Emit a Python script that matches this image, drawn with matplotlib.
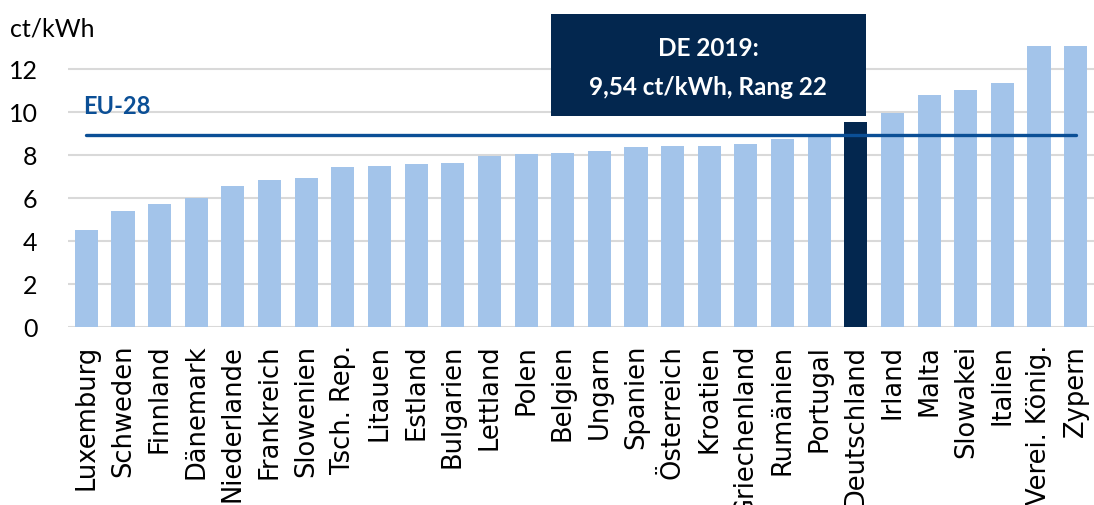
import matplotlib
matplotlib.use("Agg")
import matplotlib.pyplot as plt
from matplotlib.patches import Rectangle

# Strompreise (ct/kWh) 2019, sortiert
laender = [
    'Luxemburg', 'Schweden', 'Finnland', 'Dänemark', 'Niederlande',
    'Frankreich', 'Slowenien', 'Tsch. Rep.', 'Litauen', 'Estland',
    'Bulgarien', 'Lettland', 'Polen', 'Belgien', 'Ungarn', 'Spanien',
    'Österreich', 'Kroatien', 'Griechenland', 'Rumänien', 'Portugal',
    'Deutschland', 'Irland', 'Malta', 'Slowakei', 'Italien',
    'Verei. König.', 'Zypern'
]
preise = [
    4.50, 5.39, 5.74, 5.99, 6.55, 6.85, 6.91, 7.42, 7.50, 7.58,
    7.65, 7.95, 8.03, 8.07, 8.17, 8.37, 8.44, 8.44, 8.52, 8.72,
    8.85, 9.54, 9.93, 10.77, 11.00, 11.36, 13.05, 13.05
]
eu28 = 8.94
yticks = [0, 2, 4, 6, 8, 10, 12]

hell = '#A3C4EA'
dunkel = '#03274F'
eu_blau = '#0B4F96'

fig = plt.figure(figsize=(10.94, 5.06), dpi=100)
ax = fig.add_axes([0.0622, 0.3518, 0.9378, 0.5609])

x = list(range(len(laender)))
farben = [dunkel if l == 'Deutschland' else hell for l in laender]
ax.bar(x, preise, width=0.63, color=farben, zorder=2)

# EU-28 Durchschnitt
ax.plot([x[0], x[-1]], [eu28, eu28], color=eu_blau, lw=2.4, zorder=3,
        solid_capstyle='round')
ax.text(-0.1, 10.3, 'EU-28', color=eu_blau, fontsize=17, fontweight='bold',
        family='Lato', ha='left', va='center')

# Hinweisbox Deutschland
i_de = laender.index('Deutschland')
bx0 = 12.68
bx1 = i_de + 0.27
box = Rectangle((bx0, 9.81), bx1 - bx0, 4.75, facecolor=dunkel,
                edgecolor='none', clip_on=False, zorder=4)
ax.add_patch(box)
xm = (bx0 + bx1) / 2
ax.text(xm, 13.0, 'DE 2019:', color='white', fontsize=17.5, fontweight='bold',
        family='Lato', ha='center', va='center', zorder=5, clip_on=False)
ax.text(xm, 11.2, f'{preise[i_de]:.2f}'.replace('.', ',') + ' ct/kWh, Rang 22',
        color='white', fontsize=17.5, fontweight='bold', family='Lato',
        ha='center', va='center', zorder=5, clip_on=False)

ax.set_xlim(-0.5, len(laender) - 0.5)
ax.set_ylim(0, 13.2)
ax.set_yticks(yticks)
ax.set_yticklabels([str(t) for t in yticks], family='Lato', fontsize=18)
ax.set_xticks(x)
ax.set_xticklabels(laender, rotation=90, fontsize=18.5, va='top', ha='center')
ax.tick_params(axis='both', length=0)
ax.tick_params(axis='y', pad=22)
ax.tick_params(axis='x', pad=12)
for lbl in ax.get_yticklabels():
    lbl.set_horizontalalignment('right')

ax.grid(axis='y', color='#D9D9D9', lw=1.5, zorder=0)
for s in ax.spines.values():
    s.set_visible(False)

fig.text(0.009, 0.943, 'ct/kWh', fontsize=18, family='Lato', va='center', ha='left')

fig.savefig('out.png', dpi=100)
